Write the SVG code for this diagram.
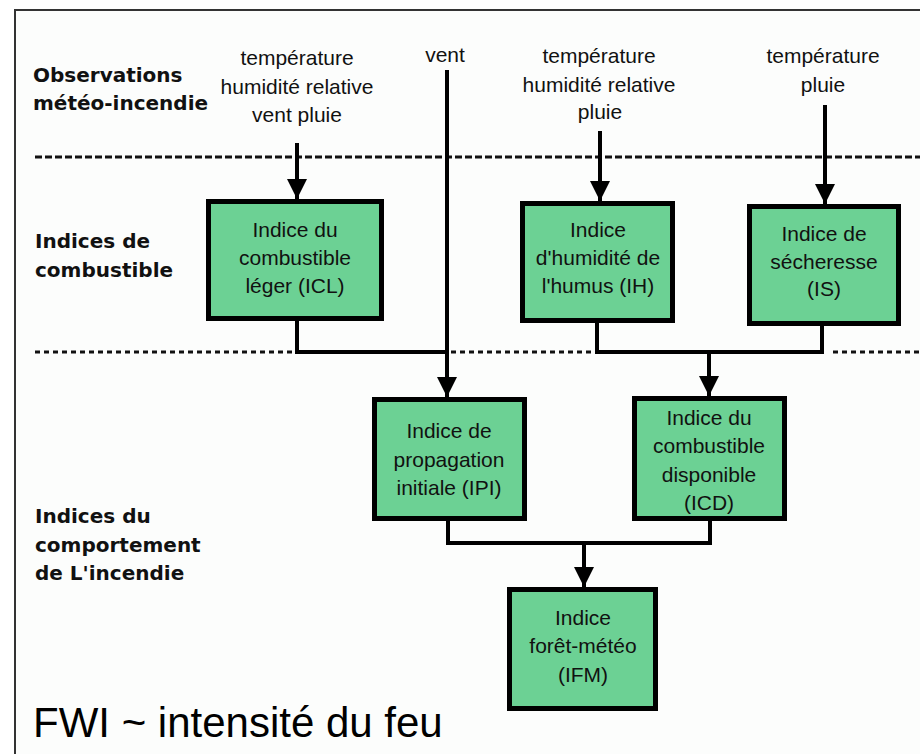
<svg xmlns="http://www.w3.org/2000/svg" width="920" height="754" viewBox="0 0 920 754">
<style>
.bg{fill:#fcfdfc}
.frame{fill:none;stroke:#333;stroke-width:2}
.box{fill:#6cd194;stroke:#000;stroke-width:5}
.t{font-family:"Liberation Sans",Arial,sans-serif;font-size:21px;fill:#111;text-anchor:middle}
.lbl{font-family:"DejaVu Sans",Verdana,sans-serif;font-weight:bold;font-size:20px;fill:#111}
.big{font-family:"Liberation Sans",Arial,sans-serif;font-size:42px;fill:#000}
.dash1{stroke:#111;stroke-width:3;stroke-dasharray:7 3;fill:none}
.dash2{stroke:#111;stroke-width:3;stroke-dasharray:5 4;fill:none}
.c{stroke:#000;stroke-width:4;fill:none}
</style>
<defs>
<marker id="ah" markerUnits="userSpaceOnUse" markerWidth="20" markerHeight="20" refX="20" refY="10" orient="auto">
<path d="M0,0 L20,10 L0,20 z" fill="#000"/>
</marker>
</defs>
<rect x="0" y="0" width="920" height="754" fill="#fff"/>
<rect class="bg" x="15" y="10" width="910" height="750"/>
<path class="frame" d="M15,760 V10 H925"/>

<g id="sep">
<path class="dash1" d="M35,157 H920"/>
<path class="dash2" d="M35,352 H293 M451,352 H592 M833,352 H920"/>
</g>

<g id="labels">
<text class="lbl" x="33" y="82">Observations</text>
<text class="lbl" x="33" y="110">météo-incendie</text>
<text class="lbl" x="35" y="248">Indices de</text>
<text class="lbl" x="35" y="277">combustible</text>
<text class="lbl" x="35" y="523">Indices du</text>
<text class="lbl" x="35" y="552">comportement</text>
<text class="lbl" x="35" y="580">de L'incendie</text>
</g>

<g id="inputs">
<text class="t" x="297" y="65">température</text>
<text class="t" x="297" y="94">humidité relative</text>
<text class="t" x="297" y="122">vent pluie</text>
<text class="t" x="445" y="62">vent</text>
<text class="t" x="599" y="63">température</text>
<text class="t" x="599" y="92">humidité relative</text>
<text class="t" x="600" y="119">pluie</text>
<text class="t" x="823" y="63">température</text>
<text class="t" x="823" y="92">pluie</text>
</g>

<g id="connectors">
<path class="c" d="M297,143 V199" marker-end="url(#ah)"/>
<path class="c" d="M447,70 V397" marker-end="url(#ah)"/>
<path class="c" d="M600,131 V201" marker-end="url(#ah)"/>
<path class="c" d="M825,105 V204" marker-end="url(#ah)"/>
<path class="c" d="M297,321 V352 H447"/>
<path class="c" d="M597,323 V352 H822 V326"/>
<path class="c" d="M709,352 V396" marker-end="url(#ah)"/>
<path class="c" d="M448,521 V543 H710 V521"/>
<path class="c" d="M584,543 V587" marker-end="url(#ah)"/>
</g>

<g id="ICL">
<rect class="box" x="208.5" y="201.5" width="173" height="117"/>
<text class="t" x="295" y="237">Indice du</text>
<text class="t" x="295" y="265">combustible</text>
<text class="t" x="295" y="293">léger (ICL)</text>
</g>
<g id="IH">
<rect class="box" x="522.5" y="203.5" width="150" height="117"/>
<text class="t" x="598" y="237">Indice</text>
<text class="t" x="598" y="265">d'humidité de</text>
<text class="t" x="598" y="293">l'humus (IH)</text>
</g>
<g id="IS">
<rect class="box" x="749.5" y="206.5" width="149" height="117"/>
<text class="t" x="824" y="241">Indice de</text>
<text class="t" x="824" y="269">sécheresse</text>
<text class="t" x="824" y="296">(IS)</text>
</g>
<g id="IPI">
<rect class="box" x="374.5" y="399.5" width="150" height="119"/>
<text class="t" x="449" y="438">Indice de</text>
<text class="t" x="449" y="467">propagation</text>
<text class="t" x="449" y="495">initiale (IPI)</text>
</g>
<g id="ICD">
<rect class="box" x="634.5" y="398.5" width="150" height="120"/>
<text class="t" x="709" y="425">Indice du</text>
<text class="t" x="709" y="453">combustible</text>
<text class="t" x="709" y="482">disponible</text>
<text class="t" x="709" y="510">(ICD)</text>
</g>
<g id="IFM">
<rect class="box" x="509.5" y="589.5" width="146" height="119"/>
<text class="t" x="583" y="625">Indice</text>
<text class="t" x="583" y="653">forêt-météo</text>
<text class="t" x="583" y="682">(IFM)</text>
</g>

<text class="big" x="33" y="737">FWI ~ intensité du feu</text>
</svg>
